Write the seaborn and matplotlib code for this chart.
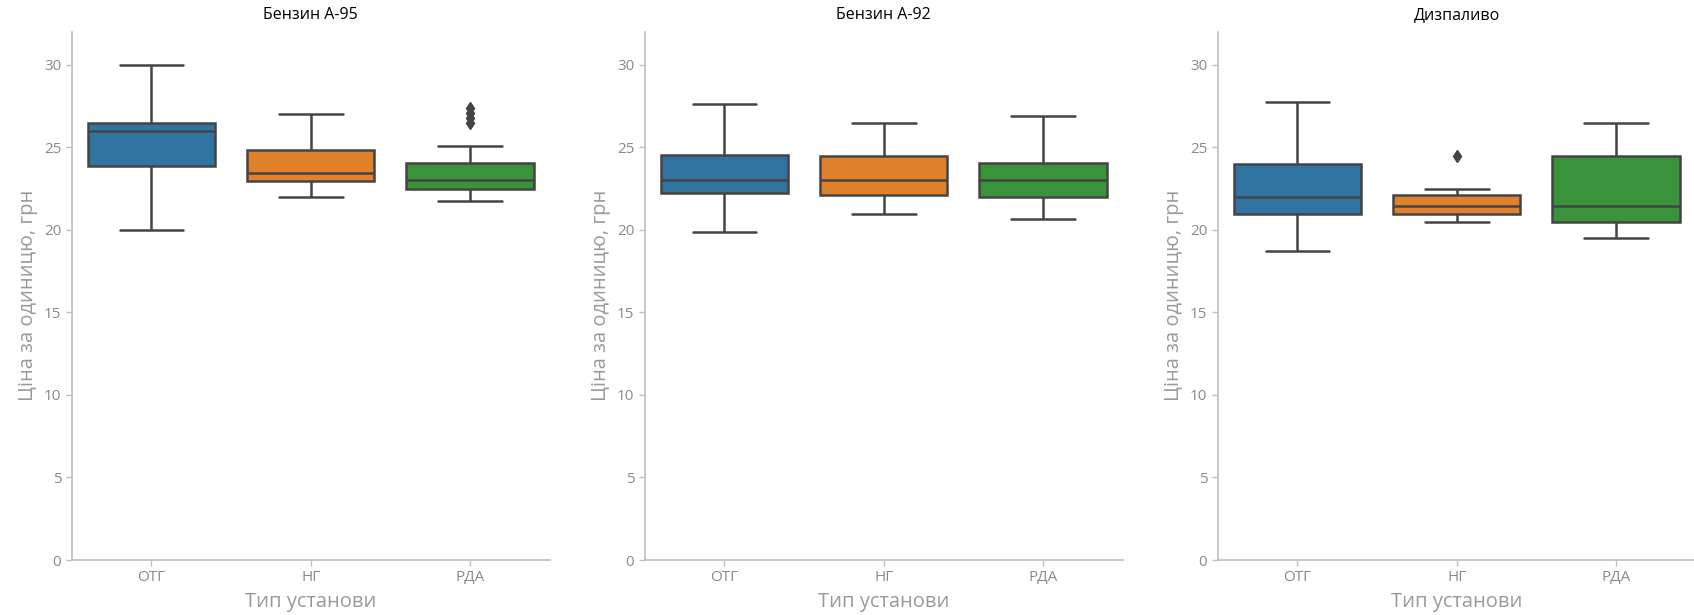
import matplotlib
matplotlib.use("Agg")
import matplotlib.pyplot as plt
import seaborn as sns
import pandas as pd

# ---- data ----
panel_titles = ["Бензин А-95", "Бензин А-92", "Дизпаливо"]
categories = ["ОТГ", "НГ", "РДА"]

a95_otg = [20.0, 23.85, 26.0, 26.45, 30.0]
a95_ng = [22.0, 22.95, 23.45, 24.85, 27.0]
a95_rda = [21.75, 22.2, 22.3, 22.4, 22.45, 22.45, 22.6, 22.8, 22.9, 23.0, 23.03,
           23.2, 23.5, 23.8, 24.0, 24.05, 25.1, 26.5, 26.8, 27.1, 27.35]

a92_otg = [19.85, 22.2, 23.0, 24.56, 27.6]
a92_ng = [20.93, 22.08, 23.0, 24.46, 26.5]
a92_rda = [20.67, 21.98, 23.0, 24.02, 26.9]

diesel_otg = [18.7, 20.95, 22.0, 23.98, 27.76]
diesel_ng = [20.47, 20.8, 20.95, 21.2, 21.43, 21.9, 22.08, 22.48, 24.5]
diesel_rda = [19.5, 20.45, 21.43, 24.46, 26.46]

panel_data = [
    [a95_otg, a95_ng, a95_rda],
    [a92_otg, a92_ng, a92_rda],
    [diesel_otg, diesel_ng, diesel_rda],
]

y_ticks = [0, 5, 10, 15, 20, 25, 30]
x_label = "Тип установи"
y_label = "Ціна за одиницю, грн"

# ---- style ----
sns.set_style("ticks")
plt.rcParams["font.family"] = ["Open Sans", "DejaVu Sans"]

spine_col = "#bfbfbf"
tick_col = "#8a8a8a"
label_col = "#9a9a9a"
line_col = "#444444"
palette = sns.color_palette()[:3]

W, H = 1694, 615
fig = plt.figure(figsize=(W / 100, H / 100), dpi=100)

lefts = [71.7, 644.7, 1217.7]
ax_w = 478
bottom_px = 55
ax_h = 528.3

for i in range(3):
    ax = fig.add_axes([lefts[i] / W, bottom_px / H, ax_w / W, ax_h / H])
    rows = []
    for cat, vals in zip(categories, panel_data[i]):
        for v in vals:
            rows.append({"cat": cat, "val": v})
    df = pd.DataFrame(rows)
    sns.boxplot(
        data=df, x="cat", y="val", hue="cat", order=categories,
        hue_order=categories, palette=palette, saturation=0.75,
        linecolor=line_col, linewidth=1.8, width=0.8, legend=False,
        flierprops=dict(marker="d", markerfacecolor=line_col,
                        markeredgecolor=line_col, markersize=6),
        ax=ax,
    )
    ax.set_ylim(0, 32)
    ax.set_xlim(-0.5, 2.5)
    ax.set_yticks(y_ticks)
    ax.set_title(panel_titles[i], fontsize=11.5, color="#000000", pad=9)
    ax.set_xlabel(x_label, fontsize=14.5, color=label_col, labelpad=5)
    ax.set_ylabel(y_label, fontsize=14.5, color=label_col, labelpad=4)
    sns.despine(ax=ax)
    for s in ["left", "bottom"]:
        ax.spines[s].set_color(spine_col)
        ax.spines[s].set_linewidth(1.2)
    ax.tick_params(axis="both", colors=spine_col, labelcolor=tick_col,
                   labelsize=11, length=4, width=1)

fig.savefig("out.png", dpi=100)
